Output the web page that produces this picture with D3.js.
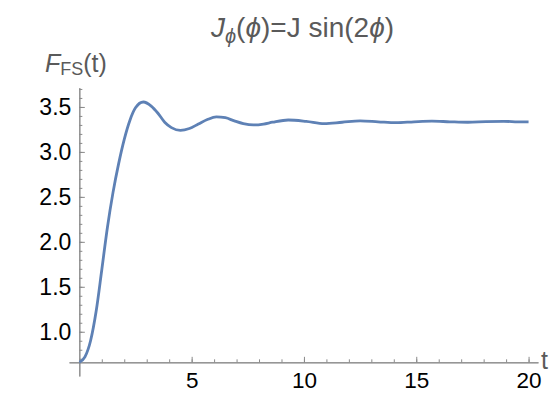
<!DOCTYPE html>
<html>
<head>
<meta charset="utf-8">
<script src="https://cdn.jsdelivr.net/npm/d3@7"></script>
<style>
  body { margin: 0; background: #fff; }
  svg text { font-family: "Liberation Sans", Arial, sans-serif; }
</style>
</head>
<body>
<div id="chart-container"></div>
<script>
// curve
const tValues = [0, 0.25, 0.5, 0.75, 1.0, 1.25, 1.5, 1.75, 2.0, 2.25, 2.5, 2.85, 3.2, 3.5, 3.8, 4.1, 4.5, 4.9, 5.3, 5.7,
    6.1, 6.5, 6.9, 7.3, 7.75, 8.2, 8.6, 9.3, 10.1, 10.9, 11.7, 12.5, 13.3, 14.1, 14.9, 15.7, 16.5, 17.3, 18.1, 18.9, 19.5, 20];
const fValues = [0.66, 0.72, 0.90, 1.23, 1.69, 2.16, 2.55, 2.87, 3.14, 3.35, 3.49, 3.555, 3.51, 3.43, 3.33, 3.27, 3.24, 3.26, 3.31, 3.36,
    3.39, 3.38, 3.345, 3.315, 3.30, 3.31, 3.33, 3.355, 3.34, 3.315, 3.33, 3.345, 3.335, 3.325, 3.335, 3.342, 3.335, 3.33, 3.337, 3.34, 3.335, 3.333];
const xMajorTicks = [5, 10, 15, 20];
const xMinorTicks = d3.range(1, 21);
const yMajorTicks = [1.0, 1.5, 2.0, 2.5, 3.0, 3.5];
const yMinorTicks = d3.range(7, 38).map(d => d / 10);

const width = 556, height = 393;
const axisColor = "#8a8a8a", lineColor = "#5e81b5", labelColor = "#5a5a5a";

const svg = d3.select("#chart-container")
    .append("svg")
    .attr("width", width)
    .attr("height", height);

// scales (padding of the plot range included)
const x = d3.scaleLinear().domain([-0.46, 20.42]).range([69, 538]);
const y = d3.scaleLinear().domain([0.508, 3.714]).range([376, 87.7]);
const yOrigin = fValues[0];

// X axis: minor ticks, then major ticks with labels
svg.append("g")
    .attr("transform", `translate(0, ${y(yOrigin)})`)
    .call(d3.axisBottom(x).tickValues(xMinorTicks).tickSize(-3).tickSizeOuter(0).tickFormat(""));
svg.append("g")
    .attr("class", "x-major")
    .attr("transform", `translate(0, ${y(yOrigin)})`)
    .call(d3.axisBottom(x).tickValues(xMajorTicks).tickSize(-5.5).tickSizeOuter(0).tickPadding(10).tickFormat(d3.format("d")));

// Y axis
svg.append("g")
    .attr("transform", `translate(${x(0)}, 0)`)
    .call(d3.axisLeft(y).tickValues(yMinorTicks).tickSize(-3).tickSizeOuter(0).tickFormat(""));
svg.append("g")
    .attr("transform", `translate(${x(0)}, 0)`)
    .call(d3.axisLeft(y).tickValues(yMajorTicks).tickSize(-5.5).tickSizeOuter(0).tickPadding(8).tickFormat(d3.format(".1f")));

svg.selectAll(".domain").attr("stroke", axisColor).attr("stroke-width", 1);
svg.selectAll(".tick line").attr("stroke", axisColor).attr("stroke-width", 1);
svg.selectAll(".tick text")
    .attr("fill", "#000")
    .style("font-size", "23px");
svg.selectAll(".x-major .tick text").style("font-size", "22.5px");

// curve
const line = d3.line()
    .x((d, i) => x(tValues[i]))
    .y(d => y(d))
    .curve(d3.curveMonotoneX);

svg.append("path")
    .datum(fValues)
    .attr("fill", "none")
    .attr("stroke", lineColor)
    .attr("stroke-width", 2.8)
    .attr("stroke-linejoin", "round")
    .attr("d", line);

// axis labels
svg.append("text")
    .attr("x", 541)
    .attr("y", 369)
    .attr("fill", labelColor)
    .style("font-size", "25px")
    .text("t");

const yLab = svg.append("text")
    .attr("x", 45)
    .attr("y", 72)
    .attr("fill", labelColor)
    .style("font-size", "25px");
yLab.append("tspan").style("font-style", "italic").text("F");
yLab.append("tspan").attr("dy", 3).style("font-size", "18px").text("FS");
yLab.append("tspan").attr("dy", -3).text("(t)");

// title
const title = svg.append("text")
    .attr("x", 302.5)
    .attr("y", 37)
    .attr("text-anchor", "middle")
    .attr("fill", labelColor)
    .style("font-size", "28px");
title.append("tspan").style("font-style", "italic").text("J");
title.append("tspan").attr("dy", 6).style("font-style", "italic").style("font-size", "20px").text("\u03D5");
title.append("tspan").attr("dy", -6).text("(");
title.append("tspan").style("font-style", "italic").text("\u03D5");
title.append("tspan").text(")=J sin(2");
title.append("tspan").style("font-style", "italic").text("\u03D5");
title.append("tspan").text(")");
</script>
</body>
</html>
